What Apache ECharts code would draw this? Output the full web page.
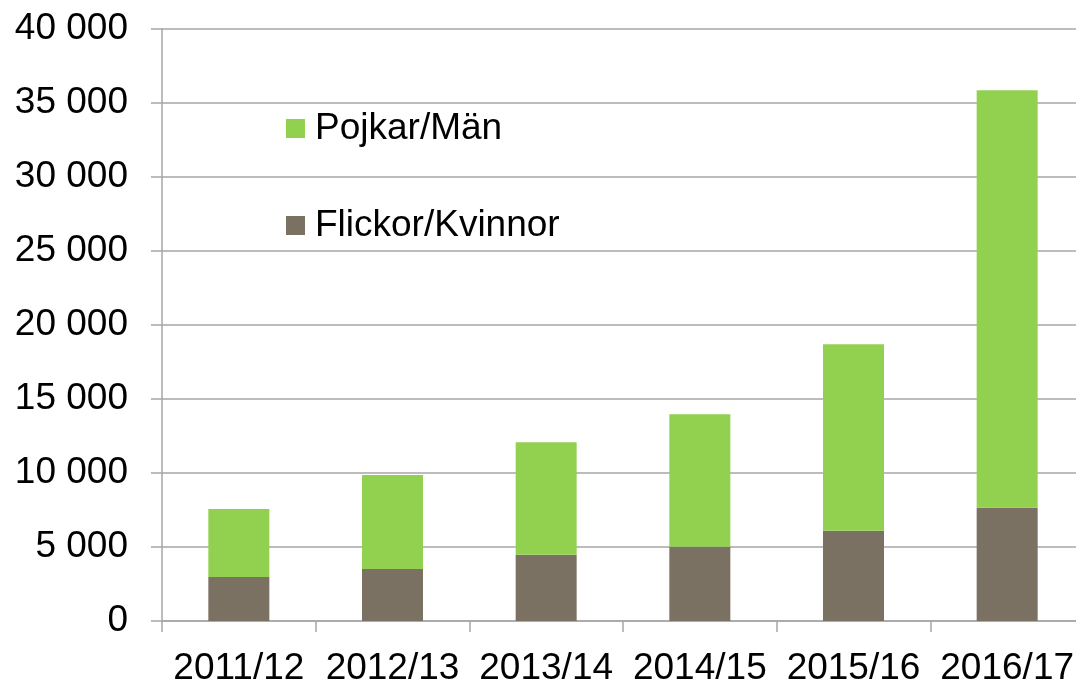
<!DOCTYPE html>
<html>
<head>
<meta charset="utf-8">
<script src="https://cdn.jsdelivr.net/npm/echarts@6/dist/echarts.min.js"></script>
<style>
html,body{margin:0;padding:0;background:#fff;}
#chart{width:1076px;height:681px;}
</style>
</head>
<body>
<div id="chart"></div>
<script>
const categories = ['2011/12', '2012/13', '2013/14', '2014/15', '2015/16', '2016/17'];
const flickorKvinnor = [2970, 3510, 4480, 5020, 6100, 7650];
const pojkarMan = [4600, 6355, 7590, 8950, 12600, 28210];
const seriesNames = ['Pojkar/Män', 'Flickor/Kvinnor'];

const font = '"Liberation Sans", Arial, sans-serif';
const chart = echarts.init(document.getElementById('chart'));
chart.setOption({
  animation: false,
  backgroundColor: '#ffffff',
  grid: { left: 162, width: 922, top: 29, height: 592, containLabel: false, outerBoundsMode: 'none' },
  legend: {
    orient: 'vertical',
    left: 281,
    top: 105,
    itemWidth: 19,
    itemHeight: 19,
    itemGap: 60,
    icon: 'rect',
    data: seriesNames,
    textStyle: { fontFamily: font, fontSize: 37, color: '#000', padding: [0, 0, 0, 5] }
  },
  xAxis: {
    type: 'category',
    data: categories,
    axisLine: { lineStyle: { color: '#A6A6A6', width: 1.5 } },
    axisTick: { show: true, length: 11, lineStyle: { color: '#A6A6A6', width: 1.5 } },
    axisLabel: { fontFamily: font, fontSize: 37, color: '#000', margin: 29, interval: 0 }
  },
  yAxis: {
    type: 'value',
    min: 0,
    max: 40000,
    interval: 5000,
    axisLine: { show: true, lineStyle: { color: '#A6A6A6', width: 1.5 } },
    axisTick: { show: true, length: 11, inside: false, lineStyle: { color: '#A6A6A6', width: 1.5 } },
    splitLine: { lineStyle: { color: '#A6A6A6', width: 1.5 } },
    axisLabel: {
      fontFamily: font, fontSize: 37, color: '#000', margin: 34,
      formatter: v => v === 0 ? '0' : String(v).replace(/\B(?=(\d{3})+(?!\d))/g, ' ')
    }
  },
  series: [
    {
      name: 'Flickor/Kvinnor',
      type: 'bar',
      stack: 'total',
      barWidth: 61,
      data: flickorKvinnor,
      itemStyle: { color: '#7A7163' }
    },
    {
      name: 'Pojkar/Män',
      type: 'bar',
      stack: 'total',
      barWidth: 61,
      data: pojkarMan,
      itemStyle: { color: '#92D050' }
    }
  ]
});
</script>
</body>
</html>
